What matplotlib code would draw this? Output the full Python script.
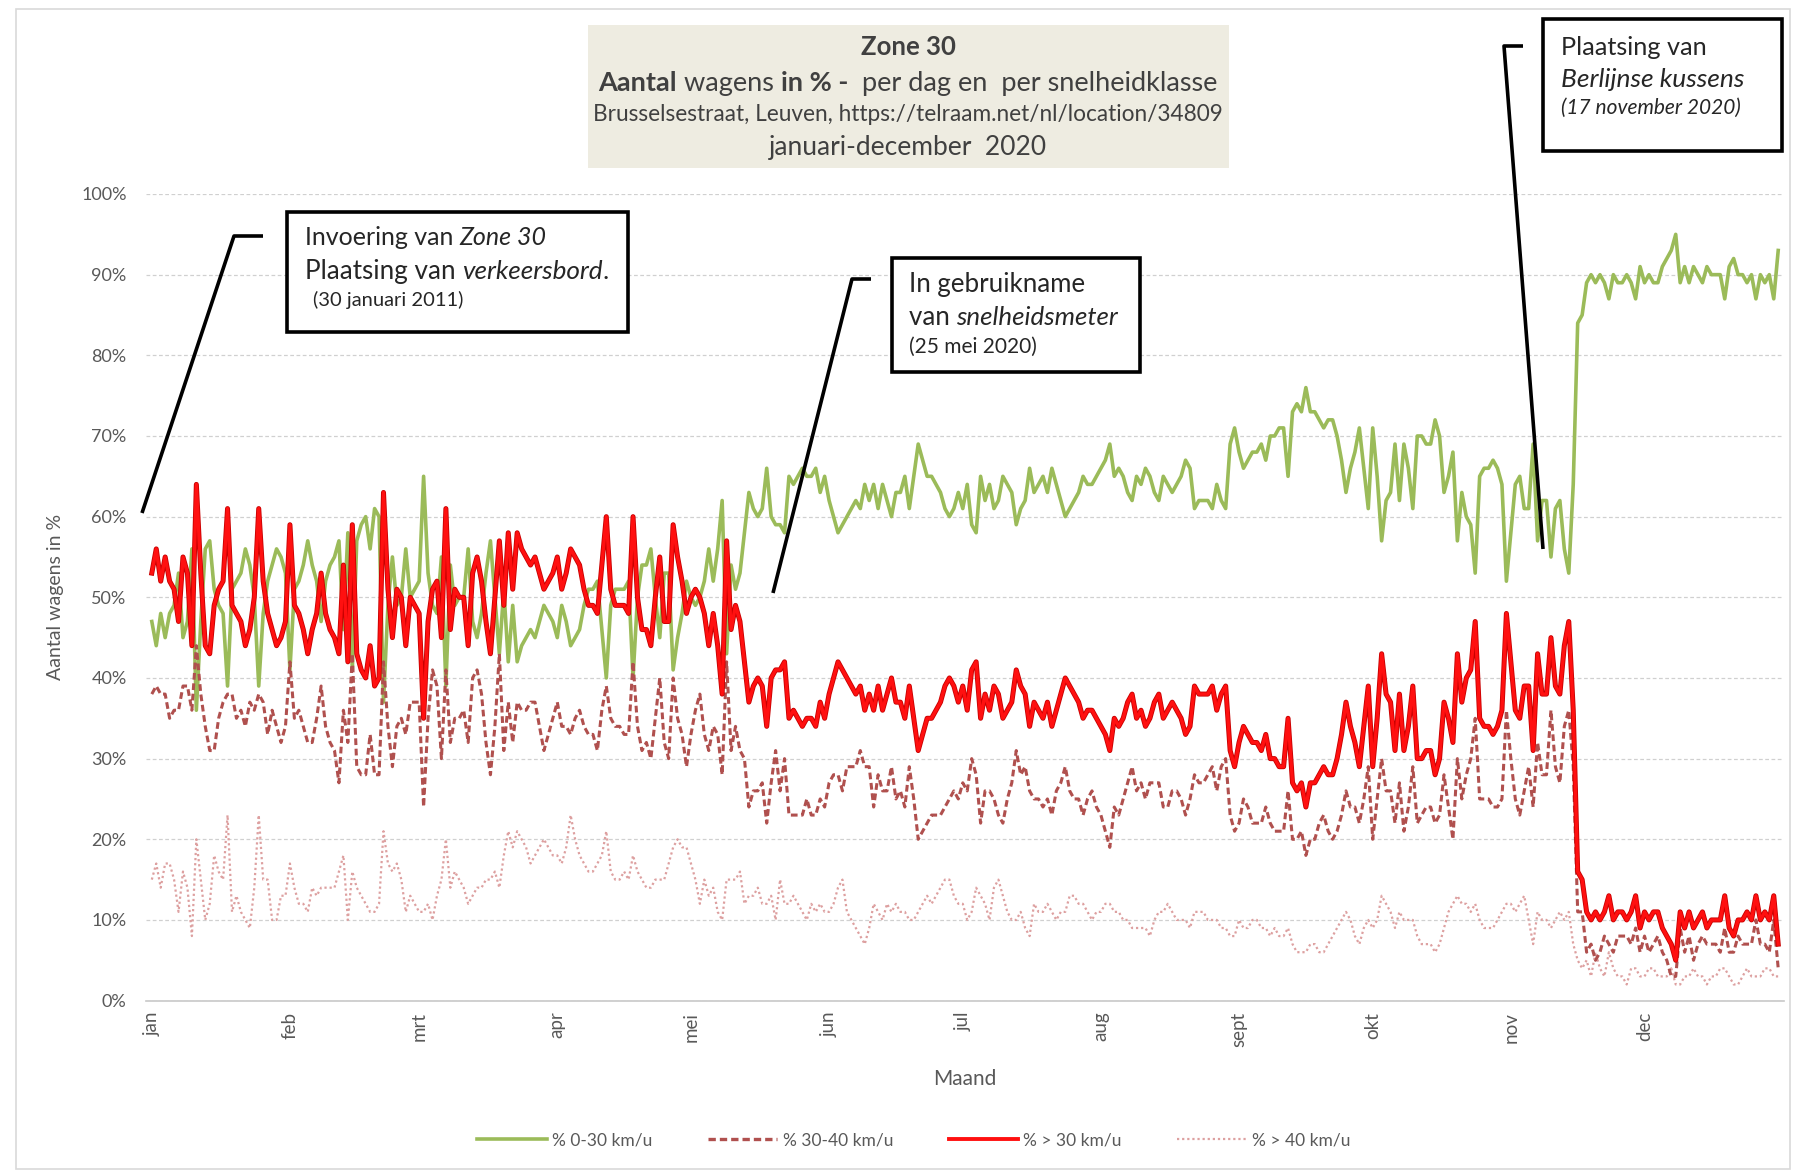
import matplotlib
matplotlib.use("Agg")
import matplotlib.pyplot as plt
import matplotlib.patheffects as pe
from matplotlib.patches import Rectangle
from matplotlib.lines import Line2D
import numpy as np

plt.rcParams["font.family"] = ["Lato", "DejaVu Sans"]

# --- data: daily share of cars per speed class, 1 jan .. 31 dec 2020 (day index 0..365)
month_labels = ["jan", "feb", "mrt", "apr", "mei", "jun", "jul", "aug", "sept", "okt", "nov", "dec"]
month_starts = [0, 31, 60, 91, 121, 152, 182, 213, 244, 274, 305, 335]

pct_0_30 = [
    47, 44, 48, 45, 48, 49, 53, 45, 47, 56, 36, 47, 56, 57, 51, 49, 48, 39, 51, 52,
    53, 56, 54, 50, 39, 48, 52, 54, 56, 55, 53, 41, 51, 52, 54, 57, 54, 52, 47, 52,
    54, 55, 57, 46, 58, 41, 57, 59, 60, 56, 61, 60, 37, 49, 55, 49, 50, 56, 50, 51,
    52, 65, 53, 49, 48, 55, 39, 54, 49, 50, 50, 56, 47, 45, 48, 53, 57, 50, 43, 51,
    42, 49, 42, 44, 45, 46, 45, 47, 49, 48, 47, 45, 49, 47, 44, 45, 46, 49, 51, 51,
    52, 46, 40, 49, 51, 51, 51, 52, 40, 50, 54, 54, 56, 50, 45, 53, 53, 41, 45, 48,
    52, 50, 49, 50, 52, 56, 52, 56, 62, 43, 54, 51, 53, 58, 63, 61, 60, 61, 66, 60,
    59, 59, 58, 65, 64, 65, 66, 65, 65, 66, 63, 65, 62, 60, 58, 59, 60, 61, 62, 61,
    64, 62, 64, 61, 64, 62, 60, 63, 63, 65, 61, 65, 69, 67, 65, 65, 64, 63, 61, 60,
    61, 63, 61, 64, 59, 58, 65, 62, 64, 61, 62, 65, 64, 63, 59, 61, 62, 66, 63, 64,
    65, 63, 66, 64, 62, 60, 61, 62, 63, 65, 64, 64, 65, 66, 67, 69, 65, 66, 65, 63,
    62, 65, 64, 66, 65, 63, 62, 65, 64, 63, 64, 65, 67, 66, 61, 62, 62, 62, 61, 64,
    62, 61, 69, 71, 68, 66, 67, 68, 68, 69, 67, 70, 70, 71, 71, 65, 73, 74, 73, 76,
    73, 73, 72, 71, 72, 72, 70, 67, 63, 66, 68, 71, 66, 61, 71, 65, 57, 62, 63, 69,
    62, 69, 66, 61, 70, 70, 69, 69, 72, 70, 63, 65, 68, 57, 63, 60, 59, 53, 65, 66,
    66, 67, 66, 64, 52, 58, 64, 65, 61, 61, 69, 57, 62, 62, 55, 61, 62, 56, 53, 64,
    84, 85, 89, 90, 89, 90, 89, 87, 90, 89, 89, 90, 89, 87, 91, 89, 90, 89, 89, 91,
    92, 93, 95, 89, 91, 89, 91, 90, 89, 91, 90, 90, 90, 87, 91, 92, 90, 90, 89, 90,
    87, 90, 89, 90, 87, 93,
]

pct_30_40 = [
    38, 39, 38, 38, 35, 36, 36, 39, 39, 36, 44, 38, 34, 31, 31, 35, 37, 38, 38, 35,
    36, 34, 37, 36, 38, 37, 33, 36, 34, 32, 34, 42, 35, 36, 34, 32, 32, 35, 39, 34,
    32, 31, 27, 36, 32, 43, 29, 28, 28, 33, 28, 28, 42, 34, 29, 34, 35, 33, 37, 37,
    37, 24, 35, 41, 39, 30, 41, 32, 35, 35, 36, 32, 40, 41, 38, 32, 28, 34, 43, 31,
    37, 32, 37, 36, 36, 37, 37, 34, 31, 33, 35, 37, 34, 34, 33, 35, 36, 34, 33, 33,
    31, 36, 39, 35, 34, 34, 33, 33, 42, 34, 31, 32, 30, 35, 40, 32, 30, 40, 35, 33,
    29, 33, 36, 38, 33, 31, 34, 33, 28, 42, 31, 34, 31, 30, 24, 26, 26, 27, 22, 27,
    31, 26, 30, 23, 23, 23, 23, 25, 23, 23, 25, 24, 27, 28, 28, 26, 29, 29, 29, 31,
    29, 29, 24, 28, 26, 26, 29, 25, 26, 24, 29, 25, 20, 21, 22, 23, 23, 23, 24, 25,
    26, 25, 27, 26, 30, 28, 22, 26, 26, 25, 23, 22, 25, 27, 31, 28, 29, 26, 25, 25,
    24, 25, 23, 26, 27, 29, 26, 25, 25, 23, 25, 26, 24, 23, 21, 19, 24, 23, 25, 27,
    29, 26, 27, 25, 27, 27, 27, 24, 24, 26, 26, 25, 23, 25, 28, 27, 27, 28, 29, 26,
    29, 30, 23, 21, 22, 25, 24, 22, 22, 22, 24, 22, 21, 21, 21, 26, 20, 20, 21, 18,
    20, 20, 22, 23, 21, 20, 21, 23, 26, 24, 24, 22, 25, 29, 20, 25, 30, 26, 26, 22,
    27, 21, 24, 29, 22, 23, 24, 24, 22, 23, 28, 24, 20, 30, 25, 28, 30, 35, 25, 25,
    25, 24, 24, 25, 36, 30, 25, 23, 26, 29, 24, 32, 28, 28, 36, 29, 27, 34, 36, 29,
    11, 11, 6, 7, 5, 6, 8, 7, 6, 8, 8, 8, 7, 9, 6, 8, 6, 7, 8, 6,
    5, 3, 3, 9, 6, 8, 5, 7, 8, 7, 7, 7, 6, 9, 6, 6, 8, 7, 7, 7,
    10, 7, 7, 6, 10, 4,
]

pct_gt30 = [
    53, 56, 52, 55, 52, 51, 47, 55, 53, 44, 64, 53, 44, 43, 49, 51, 52, 61, 49, 48,
    47, 44, 46, 50, 61, 52, 48, 46, 44, 45, 47, 59, 49, 48, 46, 43, 46, 48, 53, 48,
    46, 45, 43, 54, 42, 59, 43, 41, 40, 44, 39, 40, 63, 51, 45, 51, 50, 44, 50, 49,
    48, 35, 47, 51, 52, 45, 61, 46, 51, 50, 50, 44, 53, 55, 52, 47, 43, 50, 57, 49,
    58, 51, 58, 56, 55, 54, 55, 53, 51, 52, 53, 55, 51, 53, 56, 55, 54, 51, 49, 49,
    48, 54, 60, 51, 49, 49, 49, 48, 60, 50, 46, 46, 44, 50, 55, 47, 47, 59, 55, 52,
    48, 50, 51, 50, 48, 44, 48, 44, 38, 57, 46, 49, 47, 42, 37, 39, 40, 39, 34, 40,
    41, 41, 42, 35, 36, 35, 34, 35, 35, 34, 37, 35, 38, 40, 42, 41, 40, 39, 38, 39,
    36, 38, 36, 39, 36, 38, 40, 37, 37, 35, 39, 35, 31, 33, 35, 35, 36, 37, 39, 40,
    39, 37, 39, 36, 41, 42, 35, 38, 36, 39, 38, 35, 36, 37, 41, 39, 38, 34, 37, 36,
    35, 37, 34, 36, 38, 40, 39, 38, 37, 35, 36, 36, 35, 34, 33, 31, 35, 34, 35, 37,
    38, 35, 36, 34, 35, 37, 38, 35, 36, 37, 36, 35, 33, 34, 39, 38, 38, 38, 39, 36,
    38, 39, 31, 29, 32, 34, 33, 32, 32, 31, 33, 30, 30, 29, 29, 35, 27, 26, 27, 24,
    27, 27, 28, 29, 28, 28, 30, 33, 37, 34, 32, 29, 34, 39, 29, 35, 43, 38, 37, 31,
    38, 31, 34, 39, 30, 30, 31, 31, 28, 30, 37, 35, 32, 43, 37, 40, 41, 47, 35, 34,
    34, 33, 34, 36, 48, 42, 36, 35, 39, 39, 31, 43, 38, 38, 45, 39, 38, 44, 47, 36,
    16, 15, 11, 10, 11, 10, 11, 13, 10, 11, 11, 10, 11, 13, 9, 11, 10, 11, 11, 9,
    8, 7, 5, 11, 9, 11, 9, 10, 11, 9, 10, 10, 10, 13, 9, 8, 10, 10, 11, 10,
    13, 10, 11, 10, 13, 7,
]

pct_gt40 = [
    15, 17, 14, 17, 17, 15, 11, 16, 14, 8, 20, 15, 10, 12, 18, 16, 15, 23, 11, 13,
    11, 10, 9, 14, 23, 15, 15, 10, 10, 13, 13, 17, 14, 12, 12, 11, 14, 13, 14, 14,
    14, 14, 16, 18, 10, 16, 14, 13, 12, 11, 11, 12, 21, 17, 16, 17, 15, 11, 13, 12,
    11, 11, 12, 10, 13, 15, 20, 14, 16, 15, 14, 12, 13, 14, 14, 15, 15, 16, 14, 18,
    21, 19, 21, 20, 19, 17, 18, 19, 20, 19, 18, 18, 17, 19, 23, 20, 18, 17, 16, 16,
    17, 18, 21, 16, 15, 15, 16, 15, 18, 16, 15, 14, 14, 15, 15, 15, 17, 19, 20, 19,
    19, 17, 15, 12, 15, 13, 14, 11, 10, 15, 15, 15, 16, 12, 13, 13, 14, 12, 12, 13,
    10, 15, 12, 12, 13, 12, 11, 10, 12, 11, 12, 11, 11, 12, 14, 15, 11, 10, 9, 8,
    7, 9, 12, 11, 10, 12, 11, 12, 11, 11, 10, 10, 11, 12, 13, 12, 13, 14, 15, 15,
    13, 12, 12, 10, 11, 14, 13, 12, 10, 14, 15, 13, 11, 10, 10, 11, 9, 8, 12, 11,
    11, 12, 11, 10, 11, 11, 13, 13, 12, 12, 11, 10, 11, 11, 12, 12, 11, 11, 10, 10,
    9, 9, 9, 9, 8, 10, 11, 11, 12, 11, 10, 10, 10, 9, 11, 11, 11, 10, 10, 10,
    9, 9, 8, 8, 10, 9, 9, 10, 10, 9, 9, 8, 9, 8, 8, 9, 7, 6, 6, 6,
    7, 7, 6, 6, 7, 8, 9, 10, 11, 10, 8, 7, 9, 10, 9, 10, 13, 12, 11, 9,
    11, 10, 10, 10, 8, 7, 7, 7, 6, 7, 9, 11, 12, 13, 12, 12, 11, 12, 10, 9,
    9, 9, 10, 11, 12, 12, 11, 12, 13, 10, 7, 11, 10, 10, 9, 10, 11, 10, 11, 7,
    5, 4, 5, 3, 6, 4, 3, 6, 4, 3, 3, 2, 4, 4, 3, 3, 4, 4, 3, 3,
    3, 4, 2, 2, 3, 3, 4, 3, 3, 2, 3, 3, 4, 4, 3, 2, 2, 3, 4, 3,
    3, 3, 4, 4, 3, 3,
]

series_labels = ["% 0-30 km/u", "% 30-40 km/u", "% > 30 km/u", "% > 40 km/u"]

TXT = "#595959"
GREEN = "#9bbb59"
DASHRED = "#b0504e"
RED = "#ff1010"
PINK = "#dda0a0"

W, H = 1793, 1174
fig = plt.figure(figsize=(W / 100, H / 100), dpi=100)
fig.patch.set_facecolor("white")


def fx(px):
    return px / W


def fy(py):
    return 1 - py / H


ax = fig.add_axes([fx(146), fy(1000.6), fx(1784) - fx(146), fy(194) - fy(1000.6)])

days = np.arange(len(pct_gt30))
ax.plot(days, pct_0_30, color=GREEN, lw=2.6, zorder=3, solid_joinstyle="round")
ax.plot(days, pct_30_40, color=DASHRED, lw=2.2, ls=(0, (2.2, 1.2)), zorder=4)
ax.plot(days, pct_gt30, color=RED, lw=2.4, zorder=5, solid_joinstyle="round",
        path_effects=[pe.Stroke(linewidth=3.6, foreground="#c80000"), pe.Normal()])
ax.plot(days, pct_gt40, color=PINK, lw=1.6, ls=(0, (1, 1.3)), zorder=2)

ax.set_xlim(-1.3, 366.3)
ax.set_ylim(0, 100)
ax.set_yticks(np.arange(0, 101, 10))
ax.set_yticklabels([f"{v}%" for v in range(0, 101, 10)])
ax.set_xticks(month_starts)
ax.set_xticklabels(month_labels, rotation=90, va="top", ha="center")
ax.tick_params(axis="y", length=0, pad=14, labelsize=13, labelcolor=TXT)
ax.tick_params(axis="x", length=0, pad=8, labelsize=13.5, labelcolor=TXT)
ax.grid(axis="y", color="#d0d0d0", ls=(0, (3, 2)), lw=0.9)
ax.set_axisbelow(True)
for s in ["top", "right", "left"]:
    ax.spines[s].set_visible(False)
ax.spines["bottom"].set_color("#c8c8c8")
ax.spines["bottom"].set_linewidth(1.2)
ax.set_xlabel("Maand", fontsize=15, color=TXT, labelpad=16)
ax.set_ylabel("Aantal wagens in %", fontsize=14, color=TXT, labelpad=12)

# legend
handles = [
    Line2D([], [], color=GREEN, lw=2.6),
    Line2D([], [], color=DASHRED, lw=2.4, ls=(0, (2.2, 1.2))),
    Line2D([], [], color=RED, lw=2.8),
    Line2D([], [], color=PINK, lw=1.6, ls=(0, (1, 1.3))),
]
fig.legend(handles, series_labels, loc="center", bbox_to_anchor=(fx(914), fy(1140)),
           ncol=4, frameon=False, fontsize=12.5, handlelength=4, columnspacing=3.2,
           handletextpad=0.3, labelcolor=TXT)

# outer chart border
fig.patches.append(Rectangle((fx(16), fy(1169)), fx(1790) - fx(16), fy(9) - fy(1169),
                             transform=fig.transFigure, fill=False, ec="#d9d9d9", lw=1.2))

renderer = fig.canvas.get_renderer()


def text_width(s, **kw):
    t = fig.text(0, 0, "|" + s + "|", **kw)
    w1 = t.get_window_extent(renderer).width
    t.set_text("||")
    w0 = t.get_window_extent(renderer).width
    t.remove()
    return w1 - w0


def rich_line(x, y, parts, size, color="#404040", align="center"):
    widths = [text_width(s, fontsize=size, fontweight=wt, fontstyle=st) for s, wt, st in parts]
    total = sum(widths)
    cur = x - total / 2 if align == "center" else x
    for (s, wt, st), w in zip(parts, widths):
        fig.text(fx(cur), fy(y), s, fontsize=size, fontweight=wt, fontstyle=st,
                 color=color, va="baseline", ha="left", zorder=12)
        cur += w


# title box
fig.patches.append(Rectangle((fx(588), fy(168)), fx(1229) - fx(588), fy(25) - fy(168),
                             transform=fig.transFigure, fc="#eeece1", ec="none"))
cx = 908
rich_line(cx, 55, [("Zone 30", "bold", "normal")], 18.5)
rich_line(cx, 91, [("Aantal", "bold", "normal"), (" wagens ", "normal", "normal"),
                   ("in % -", "bold", "normal"), ("  per dag en  per snelheidklasse", "normal", "normal")], 19.5)
rich_line(cx, 121, [("Brusselsestraat, Leuven, https://telraam.net/nl/location/34809", "normal", "normal")], 16.3)
rich_line(cx, 155, [("januari-december  2020", "normal", "normal")], 19)


def note_box(x0, y0, x1, y1):
    fig.patches.append(Rectangle((fx(x0), fy(y1)), fx(x1) - fx(x0), fy(y0) - fy(y1),
                                 transform=fig.transFigure, fc="white", ec="black", lw=2.6, zorder=10))


def leader(pts):
    xs = [fx(p[0]) for p in pts]
    ys = [fy(p[1]) for p in pts]
    fig.lines.append(Line2D(xs, ys, transform=fig.transFigure, color="black", lw=2.6,
                            solid_capstyle="butt", zorder=10))


BOXTXT = "#262626"
# note 1
leader([(263, 236), (234, 236), (142, 513)])
note_box(287, 212, 628, 332)
rich_line(305, 245, [("Invoering van ", "normal", "normal"), ("Zone 30", "normal", "italic")], 18, BOXTXT, "left")
rich_line(305, 279, [("Plaatsing van ", "normal", "normal"), ("verkeersbord", "normal", "italic"),
                     (".", "normal", "normal")], 18.8, BOXTXT, "left")
rich_line(313, 306, [("(30 januari 2011)", "normal", "normal")], 14.5, BOXTXT, "left")

# note 2
leader([(871, 279), (852, 279), (773, 593)])
note_box(892, 258, 1140, 372)
rich_line(909, 292, [("In gebruikname", "normal", "normal")], 18.6, BOXTXT, "left")
rich_line(909, 325, [("van ", "normal", "normal"), ("snelheidsmeter", "normal", "italic")], 18.6, BOXTXT, "left")
rich_line(909, 353, [("(25 mei 2020)", "normal", "normal")], 15, BOXTXT, "left")

# note 3
leader([(1523, 46), (1504, 46), (1543, 549)])
note_box(1543, 19, 1782, 151)
rich_line(1561, 55, [("Plaatsing van", "normal", "normal")], 18.2, BOXTXT, "left")
rich_line(1561, 87, [("Berlijnse kussens", "normal", "italic")], 19, BOXTXT, "left")
rich_line(1561, 114, [("(17 november 2020)", "normal", "italic")], 15, BOXTXT, "left")

fig.savefig("out.png", dpi=100)
